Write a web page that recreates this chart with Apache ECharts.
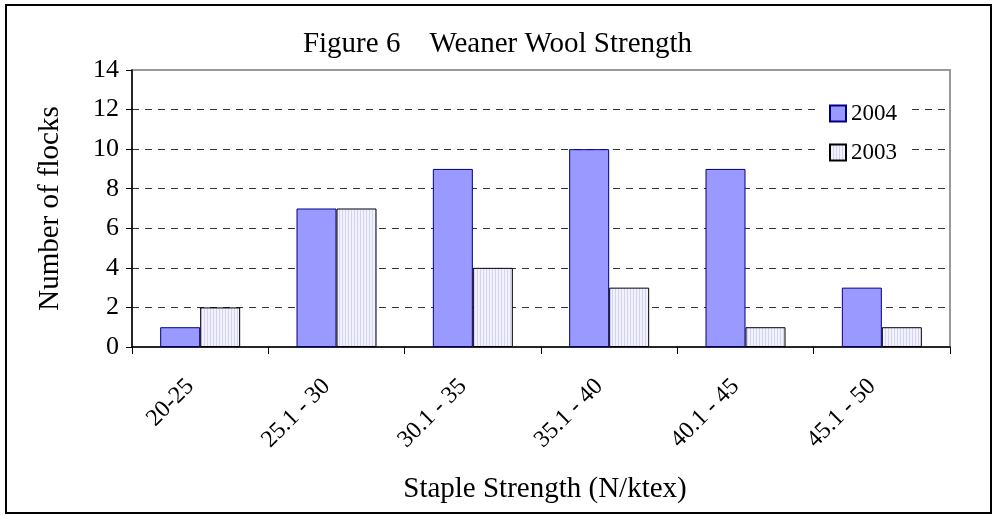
<!DOCTYPE html>
<html>
<head>
<meta charset="utf-8">
<script src="https://cdn.jsdelivr.net/npm/echarts@6/dist/echarts.min.js"></script>
<style>html,body{margin:0;padding:0;background:#fff;}#c{width:995px;height:516px;}</style>
</head>
<body>
<div id="c"></div>
<script>
const categories = ['20-25', '25.1 - 30', '30.1 - 35', '35.1 - 40', '40.1 - 45', '45.1 - 50'];
const values2004 = [1, 7, 9, 10, 9, 3];
const values2003 = [2, 7, 4, 3, 1, 1];
const yTicks = [0, 2, 4, 6, 8, 10, 12, 14];

const FONT = '"Liberation Serif", "Times New Roman", serif';

// striped pattern for 2003
const pc = document.createElement('canvas');
pc.width = 3; pc.height = 3;
const pctx = pc.getContext('2d');
pctx.fillStyle = '#f2f2ff';
pctx.fillRect(0, 0, 3, 3);
pctx.fillStyle = '#d4d4f0';
pctx.fillRect(0, 0, 1, 3);

const chart = echarts.init(document.getElementById('c'), null, {renderer: 'canvas'});
chart.setOption({
  backgroundColor: '#fff',
  animation: false,
  title: {
    text: 'Figure 6    Weaner Wool Strength',
    left: 'center',
    top: 25,
    textStyle: {fontFamily: FONT, fontSize: 29, fontWeight: 'normal', color: '#000'}
  },
  legend: {
    orient: 'vertical',
    left: 819,
    top: 98,
    padding: [4, 10, 4, 10],
    itemGap: 16,
    itemWidth: 16,
    itemHeight: 16,
    backgroundColor: '#fff',
    icon: 'rect',
    textStyle: {fontFamily: FONT, fontSize: 23, color: '#000', padding: [0, 0, 0, 0]},
    data: ['2004', '2003']
  },
  grid: {
    left: 132, right: 45, top: 70, bottom: 169,
    show: true, borderColor: '#999', borderWidth: 2, backgroundColor: '#fff'
  },
  xAxis: {
    type: 'category',
    data: categories,
    name: 'Staple Strength (N/ktex)',
    nameLocation: 'middle',
    nameGap: 128,
    nameTextStyle: {fontFamily: FONT, fontSize: 29, color: '#000', padding: [0, 0, 0, 8]},
    axisLine: {lineStyle: {color: '#000', width: 1.5}},
    axisTick: {show: true, alignWithLabel: false, length: 7, lineStyle: {color: '#000'}},
    axisLabel: {rotate: 45, margin: 26, padding: [0, 14, 0, 0], fontFamily: FONT, fontSize: 24, color: '#000'}
  },
  yAxis: {
    type: 'value',
    min: 0, max: 14, interval: 2,
    name: 'Number of flocks',
    nameLocation: 'middle',
    nameGap: 67,
    nameTextStyle: {fontFamily: FONT, fontSize: 29, color: '#000'},
    axisLine: {show: true, lineStyle: {color: '#000', width: 1.5}},
    axisTick: {show: true, length: 6, lineStyle: {color: '#000'}},
    axisLabel: {
      margin: 13, fontFamily: FONT, fontSize: 26, color: '#000',
      formatter: function (v) { return yTicks.indexOf(v) >= 0 ? String(v) : ''; }
    },
    splitLine: {show: true, showMinLine: false, showMaxLine: false, lineStyle: {color: '#333', type: [7, 6], width: 1}}
  },
  series: [
    {
      name: '2004', type: 'bar', data: values2004,
      barWidth: 40, barGap: '0%',
      itemStyle: {color: '#9999ff', borderColor: '#000080', borderWidth: 1}
    },
    {
      name: '2003', type: 'bar', data: values2003,
      barWidth: 40,
      itemStyle: {color: {image: pc, repeat: 'repeat'}, borderColor: '#000', borderWidth: 1}
    }
  ],
  graphic: [{
    type: 'rect', silent: true, z: 100,
    shape: {x: 6, y: 5, width: 985, height: 508},
    style: {fill: 'none', stroke: '#000', lineWidth: 2}
  }]
});
</script>
</body>
</html>
